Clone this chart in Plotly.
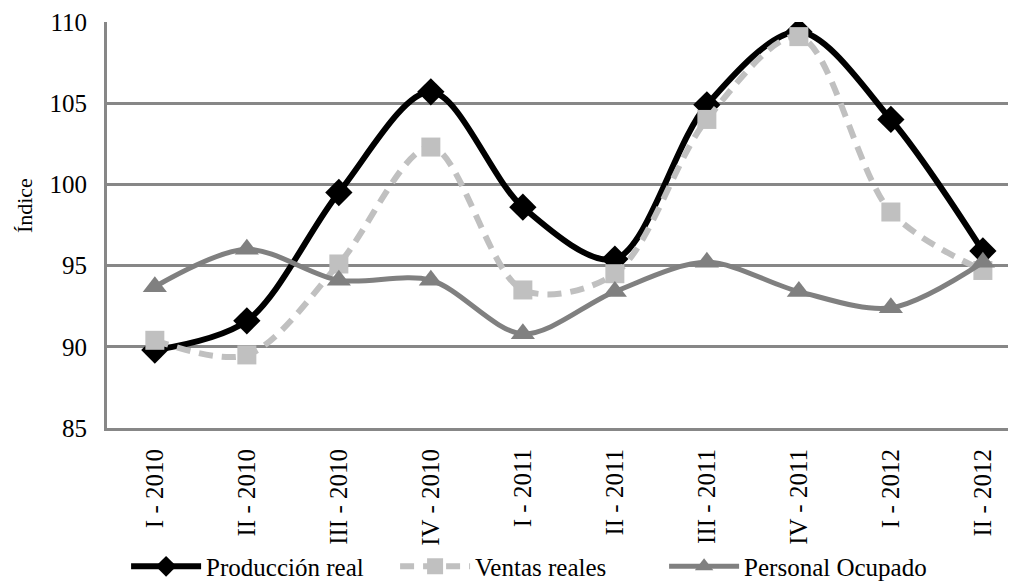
import plotly.graph_objects as go

categorias = ["I - 2010", "II - 2010", "III - 2010", "IV - 2010", "I - 2011",
              "II - 2011", "III - 2011", "IV - 2011", "I - 2012", "II - 2012"]
produccion_real = [89.8, 91.6, 99.5, 105.7, 98.6, 95.4, 104.9, 109.4, 104.0, 95.9]
ventas_reales = [90.4, 89.5, 95.1, 102.3, 93.5, 94.5, 104.0, 109.1, 98.3, 94.7]
personal_ocupado = [93.7, 96.0, 94.1, 94.1, 90.8, 93.4, 95.2, 93.4, 92.4, 95.2]
titulo_y = "Índice"

FONT = "Liberation Serif"
x = list(range(len(categorias)))

fig = go.Figure()
fig.add_trace(go.Scatter(
    x=x, y=produccion_real, name="Producción real", mode="lines+markers",
    line=dict(color="#000000", width=6, shape="spline", smoothing=0.9),
    marker=dict(symbol="diamond", size=21, color="#000000")))
fig.add_trace(go.Scatter(
    x=x, y=ventas_reales, name="Ventas reales", mode="lines+markers",
    line=dict(color="#c0c0c0", width=6, shape="spline", smoothing=0.9, dash="14px,9px"),
    marker=dict(symbol="square", size=19, color="#c0c0c0")))
fig.add_trace(go.Scatter(
    x=x, y=personal_ocupado, name="Personal Ocupado", mode="lines+markers",
    line=dict(color="#808080", width=5, shape="spline", smoothing=0.9),
    marker=dict(symbol="triangle-up", size=21, color="#808080")))

fig.add_annotation(
    text=titulo_y, textangle=-90, xref="paper", yref="paper",
    x=-0.090, y=0.547, xanchor="center", yanchor="middle", showarrow=False,
    font=dict(family=FONT, size=22, color="#000000"))

fig.update_layout(
    width=1008, height=580,
    margin=dict(l=99, r=0, t=14, b=160),
    paper_bgcolor="white", plot_bgcolor="white",
    font=dict(family=FONT, size=24, color="#000000"),
    showlegend=True,
    legend=dict(orientation="h", x=0.021, xanchor="left",
                yref="container", y=0.037, yanchor="middle",
                font=dict(family=FONT, size=25), itemwidth=70,
                entrywidth=184, entrywidthmode="pixels",
                tracegroupgap=0, bgcolor="rgba(0,0,0,0)"),
    xaxis=dict(
        tickmode="array", tickvals=x, ticktext=categorias,
        range=[-0.52, 9.36], tickangle=-90, automargin=False,
        showgrid=False, zeroline=False,
        showline=True, linecolor="#878787", linewidth=3,
        ticks="", ticklabelstandoff=8, tickfont=dict(family=FONT, size=25)),
    yaxis=dict(
        range=[85, 110], dtick=5, tick0=85, automargin=False,
        showgrid=True, gridcolor="#878787", gridwidth=3,
        zeroline=False, showline=True, linecolor="#878787", linewidth=3,
        ticks="", ticklabelstandoff=12,
        tickfont=dict(family=FONT, size=25)),
)

fig.write_html("out.html")
